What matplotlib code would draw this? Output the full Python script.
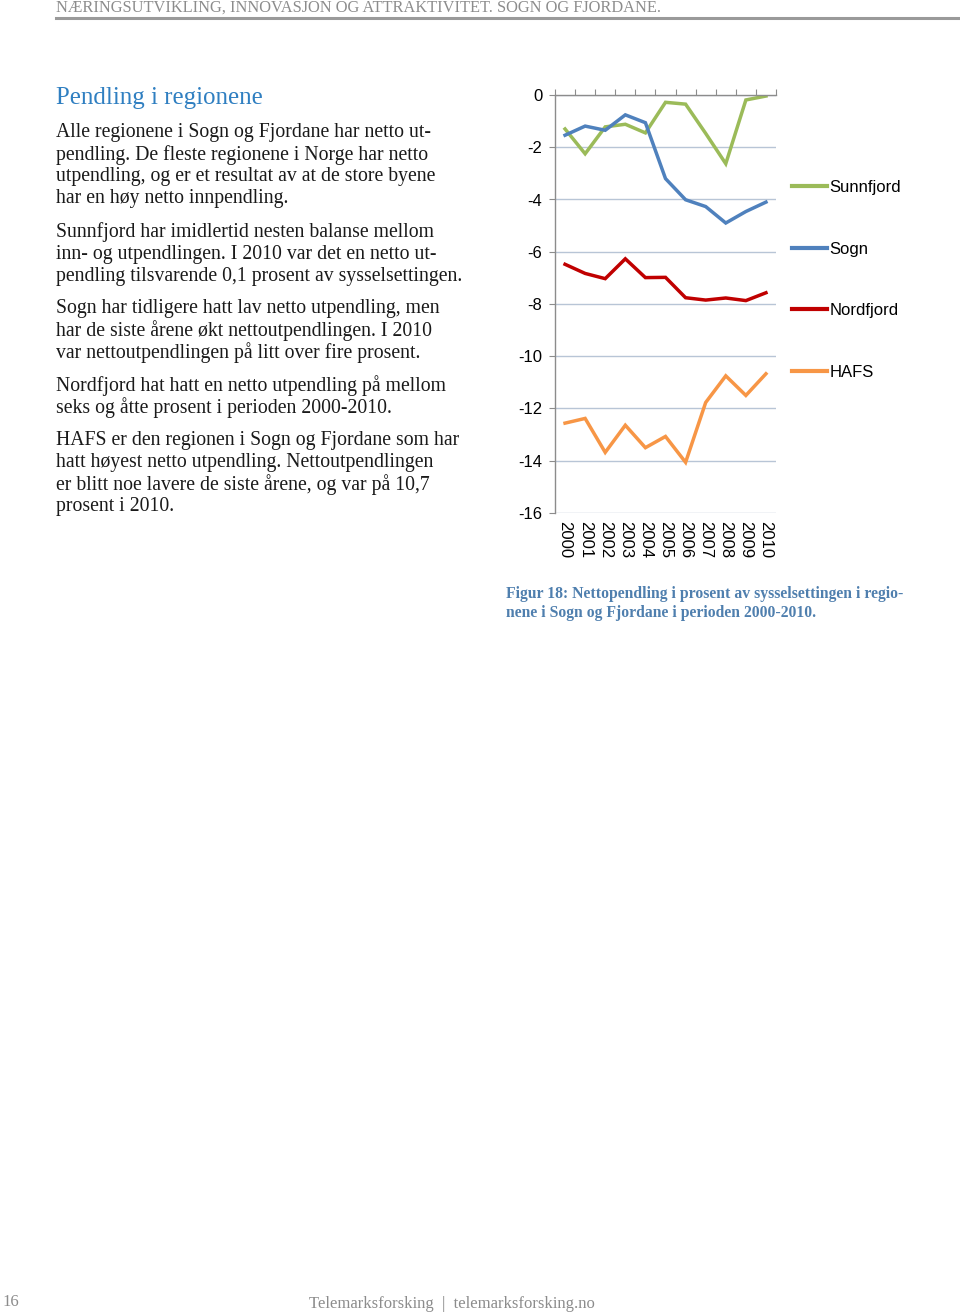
import matplotlib
matplotlib.use("Agg")
import matplotlib.pyplot as plt
from matplotlib.lines import Line2D

years = ["2000", "2001", "2002", "2003", "2004", "2005", "2006", "2007", "2008", "2009", "2010"]
sunnfjord = [-1.3, -2.25, -1.22, -1.12, -1.45, -0.28, -0.35, -1.47, -2.63, -0.19, -0.04]
sogn = [-1.54, -1.19, -1.35, -0.76, -1.06, -3.2, -4.01, -4.27, -4.9, -4.46, -4.1]
nordfjord = [-6.48, -6.83, -7.03, -6.27, -6.99, -6.98, -7.76, -7.85, -7.77, -7.87, -7.57]
hafs = [-12.56, -12.38, -13.68, -12.64, -13.5, -13.07, -14.06, -11.77, -10.75, -11.5, -10.67]
series_names = ["Sunnfjord", "Sogn", "Nordfjord", "HAFS"]
yticks = [0, -2, -4, -6, -8, -10, -12, -14, -16]

W, H = 960, 1313
fig = plt.figure(figsize=(W / 100, H / 100), dpi=100)
fig.patch.set_facecolor("white")


def fx(x):
    return x / W


def fy(y):
    return 1 - y / H


serif = ["Liberation Serif", "DejaVu Serif"]
sans = ["Liberation Sans", "DejaVu Sans"]

# header
fig.text(fx(56), fy(8), "NÆRINGSUTVIKLING, INNOVASJON OG ATTRAKTIVITET. SOGN OG FJORDANE.",
         family=serif, fontsize=11.8, color="#8c8c8c", va="center", ha="left")
fig.add_artist(Line2D([fx(56), fx(960)], [fy(18), fy(18)], color="#9a9a9a", lw=2.2))

# title
fig.text(fx(56), fy(98), "Pendling i regionene", family=serif, fontsize=17.9,
         color="#2f7fc1", va="center", ha="left")

body = [
    (133, "Alle regionene i Sogn og Fjordane har netto ut-"),
    (155, "pendling. De fleste regionene i Norge har netto"),
    (177, "utpendling, og er et resultat av at de store byene"),
    (199, "har en høy netto innpendling."),
    (232, "Sunnfjord har imidlertid nesten balanse mellom"),
    (254, "inn- og utpendlingen. I 2010 var det en netto ut-"),
    (276, "pendling tilsvarende 0,1 prosent av sysselsettingen."),
    (309, "Sogn har tidligere hatt lav netto utpendling, men"),
    (331, "har de siste årene økt nettoutpendlingen. I 2010"),
    (353, "var nettoutpendlingen på litt over fire prosent."),
    (386, "Nordfjord hat hatt en netto utpendling på mellom"),
    (408, "seks og åtte prosent i perioden 2000-2010."),
    (441, "HAFS er den regionen i Sogn og Fjordane som har"),
    (463, "hatt høyest netto utpendling. Nettoutpendlingen"),
    (485, "er blitt noe lavere de siste årene, og var på 10,7"),
    (507, "prosent i 2010."),
]
for y, t in body:
    fig.text(fx(56), fy(y), t, family=serif, fontsize=14.2, color="#1a1a1a",
             va="center", ha="left")

# chart
ax = fig.add_axes([fx(555), fy(513), (776 - 555) / W, (513 - 95) / H])
x = list(range(len(years)))
colors = ["#9bbb59", "#4f81bd", "#c00000", "#f79646"]
data = [sunnfjord, sogn, nordfjord, hafs]
handles = []
for name, vals, c in zip(series_names, data, colors):
    (ln,) = ax.plot(x, vals, color=c, lw=2.5, solid_joinstyle="miter", label=name)
    handles.append(ln)

ax.set_xlim(-0.5, len(years) - 0.5)
ax.set_ylim(-16, 0)
ax.set_yticks(yticks)
ax.set_yticklabels([str(v) for v in yticks], family=sans, fontsize=12)
ax.yaxis.grid(True, color="#b8c5d6", lw=1)
ax.set_axisbelow(True)
for s in ["right", "bottom"]:
    ax.spines[s].set_visible(False)
for s in ["left", "top"]:
    ax.spines[s].set_color("#8c8c8c")
    ax.spines[s].set_linewidth(1)
ax.tick_params(axis="y", length=4, color="#8c8c8c", pad=5)
ax.set_xticks(x)
ax.set_xticklabels(years, rotation=270, family=sans, fontsize=12)
ax.tick_params(axis="x", length=0, pad=6)

sec = ax.secondary_xaxis("top")
sec.set_xticks([i - 0.5 for i in range(len(years) + 1)])
sec.set_xticklabels([])
sec.tick_params(length=4, color="#8c8c8c", direction="out")
sec.spines["top"].set_visible(False)

leg = fig.legend(handles=handles, loc="upper left", bbox_to_anchor=(fx(792), fy(180)),
                 frameon=False, prop={"family": sans, "size": 12}, handlelength=2.1,
                 handletextpad=0.15, labelspacing=2.8, borderpad=0, borderaxespad=0)
for l in leg.get_lines():
    l.set_linewidth(3)

# caption
fig.text(fx(506), fy(594), "Figur 18: Nettopendling i prosent av sysselsettingen i regio-",
         family=serif, fontsize=11.3, fontweight="bold", color="#4f7fae", va="center", ha="left")
fig.text(fx(506), fy(613), "nene i Sogn og Fjordane i perioden 2000-2010.",
         family=serif, fontsize=11.3, fontweight="bold", color="#4f7fae", va="center", ha="left")

# footer
fig.text(fx(2), fy(1302), "16", family=serif, fontsize=12, color="#8c8c8c", va="center", ha="left")
fig.text(fx(309), fy(1304), "Telemarksforsking  |  telemarksforsking.no", family=serif,
         fontsize=12, color="#8c8c8c", va="center", ha="left")

fig.savefig("out.png", dpi=100, facecolor="white")
